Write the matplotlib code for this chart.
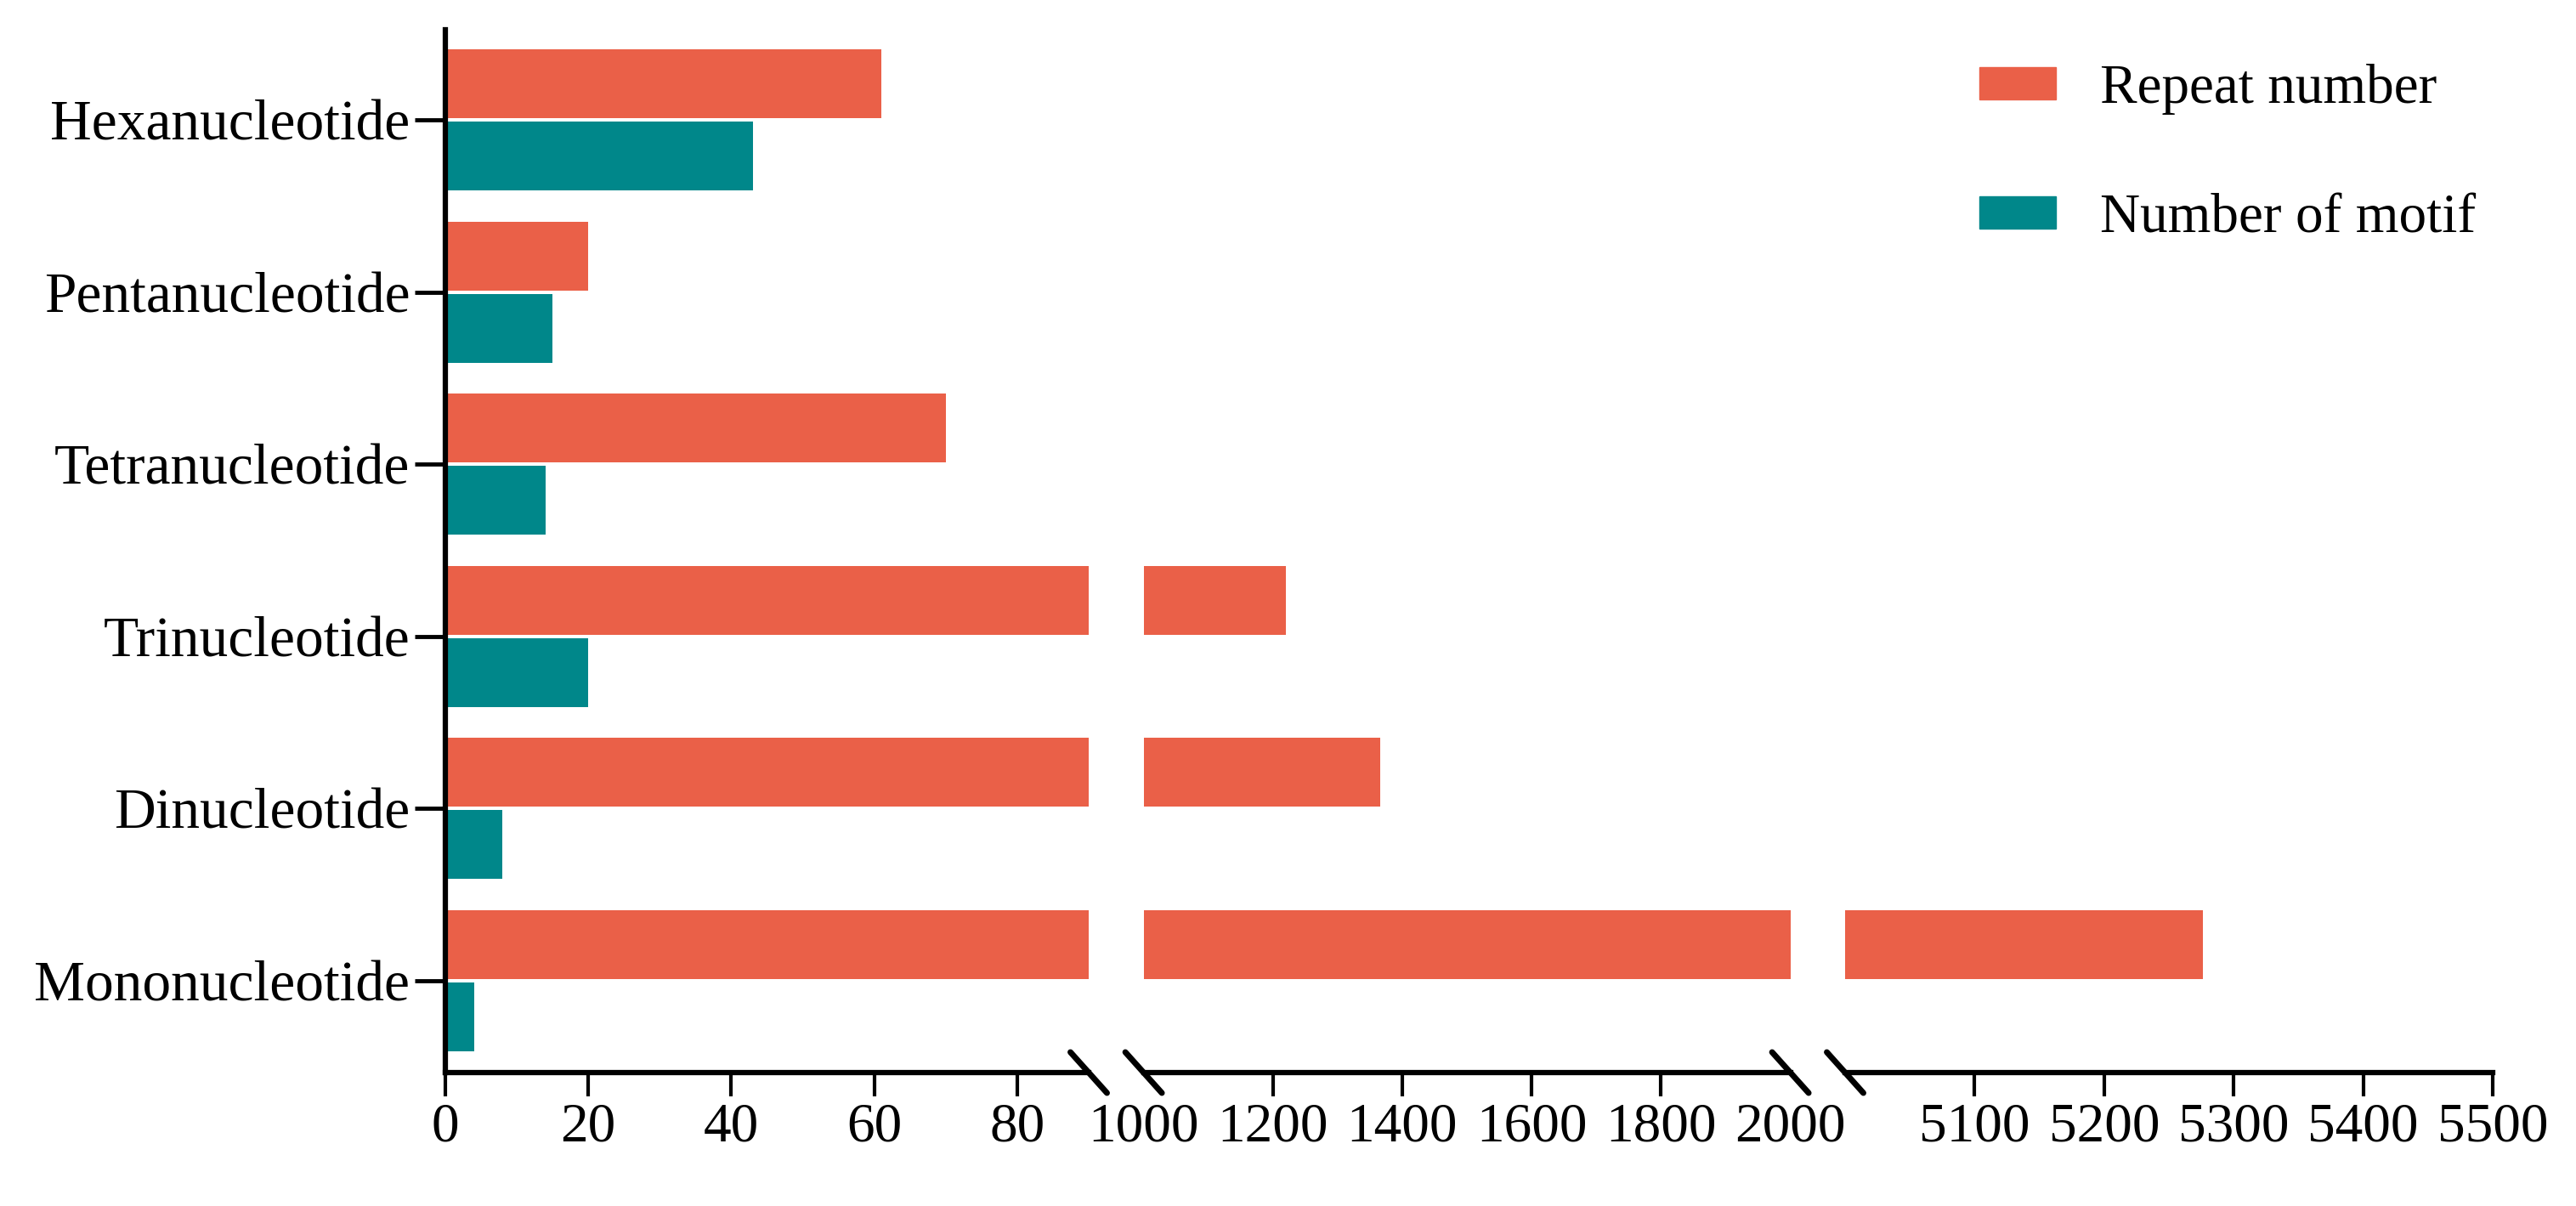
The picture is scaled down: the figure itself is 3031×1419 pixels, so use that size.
import numpy as np
import matplotlib
matplotlib.use("Agg")
import matplotlib.pyplot as plt
from matplotlib.patches import Patch
from matplotlib.lines import Line2D

plt.rcParams["font.family"] = ["Liberation Serif", "DejaVu Serif"]

# ── data ────────────────────────────────────────────────────────────────────
categories = ["Mononucleotide", "Dinucleotide", "Trinucleotide",
              "Tetranucleotide", "Pentanucleotide", "Hexanucleotide"]
repeat_number = [5276, 1366, 1220, 70, 20, 61]
motif_number = [4, 8, 20, 14, 15, 43]

RED = "#EA6048"
TEAL = "#00878A"

# broken x-axis: three segments of equal width
segments = [(0, 90), (1000, 2000), (5000, 5500)]
seg_ticks = [[0, 20, 40, 60, 80],
             [1000, 1200, 1400, 1600, 1800, 2000],
             [5100, 5200, 5300, 5400, 5500]]

W, H = 3031, 1419
fig = plt.figure(figsize=(W / 100, H / 100), dpi=100)

bottom = (H - 1262) / H
height = (1262 - 35) / H
lefts = [524, 1345.6, 2171]
widths = [757, 761, 762]

y = np.arange(len(categories))
bh = 0.40
off = 0.21
axes = []
for i, (lo, hi) in enumerate(segments):
    ax = fig.add_axes([lefts[i] / W, bottom, widths[i] / W, height])
    ax.barh(y + off, repeat_number, height=bh, color=RED, label="Repeat number")
    ax.barh(y - off, motif_number, height=bh, color=TEAL, label="Number of motif")
    ax.set_xlim(lo, hi)
    ax.set_ylim(-0.533, 5.523)
    for s in ["top", "right"]:
        ax.spines[s].set_visible(False)
    ax.spines["bottom"].set_linewidth(4.5)
    ax.spines["left"].set_linewidth(4.5)
    ax.set_xticks(seg_ticks[i])
    ax.set_xticklabels([str(t) for t in seg_ticks[i]])
    ax.tick_params(axis="x", direction="out", length=20, width=3,
                   labelsize=47, pad=5)
    if i == 0:
        ax.set_yticks(y)
        ax.set_yticklabels(categories)
        ax.tick_params(axis="y", direction="out", length=26, width=3.5,
                       labelsize=48.5, pad=4)
    else:
        ax.spines["left"].set_visible(False)
        ax.tick_params(axis="y", left=False, labelleft=False)
    axes.append(ax)

# no tick marks where the break symbols sit
mt = axes[1].xaxis.get_major_ticks()
mt[0].tick1line.set_visible(False)
mt[-1].tick1line.set_visible(False)

# break marks (double slashes)
inv = fig.transFigure.inverted()
dx, dy = 21.5 / W, 24 / H


def slash(ax, xval):
    xf, yf = inv.transform(ax.transData.transform((xval, ax.get_ylim()[0])))
    fig.add_artist(Line2D([xf - dx, xf + dx], [yf + dy, yf - dy],
                          transform=fig.transFigure, color="black",
                          lw=5, solid_capstyle="round"))


slash(axes[0], 90)
slash(axes[1], 1000)
slash(axes[1], 2000)
slash(axes[2], 5000)

handles = [Patch(color=RED), Patch(color=TEAL)]
fig.legend(handles, ["Repeat number", "Number of motif"],
           loc="upper left", bbox_to_anchor=(2329 / W, 1 - 75 / H),
           frameon=False, fontsize=47, handlelength=1.38, handleheight=0.53,
           handletextpad=0.8, labelspacing=1.42, borderpad=0, borderaxespad=0)

fig.savefig("out.png", dpi=100)
